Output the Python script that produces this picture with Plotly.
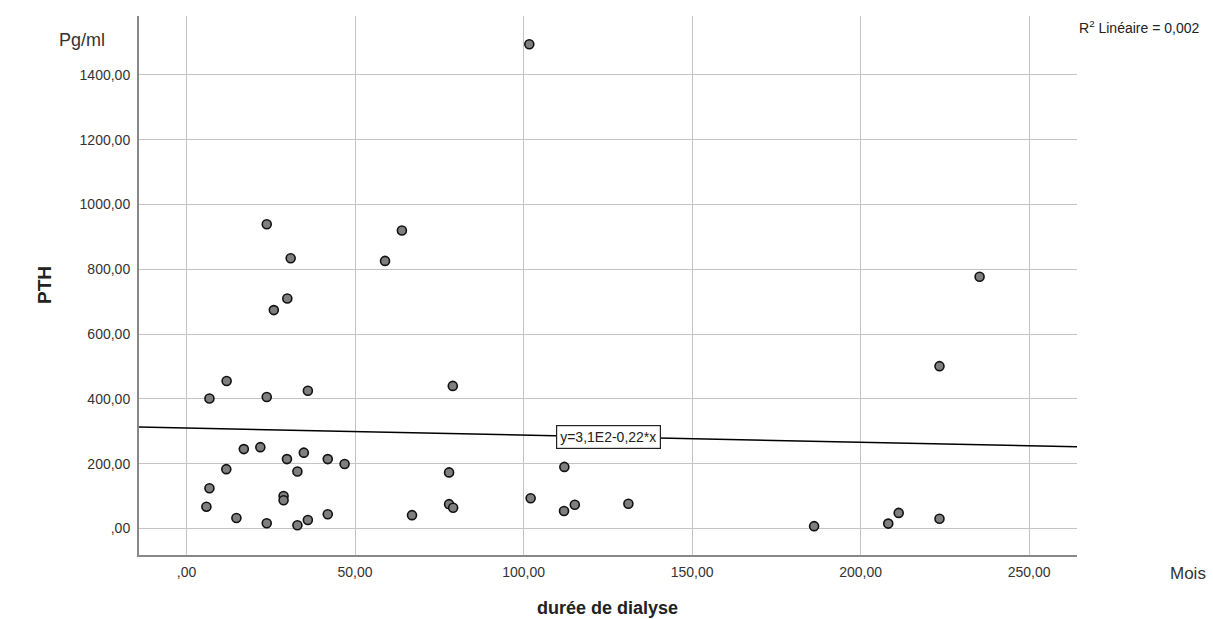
import numpy as np
import plotly.graph_objects as go

# ---- data ----
duree = [101.7, 11.9, 6.8, 23.8, 36.0, 17.0, 21.9, 29.8, 34.8, 41.9, 46.9, 11.8, 32.9,
         6.8, 28.8, 28.8, 5.9, 14.8, 23.8, 32.9, 36.0, 41.9,
         23.8, 30.9, 29.9, 25.9, 63.9, 58.9,
         79.0, 77.9, 77.9, 79.1, 66.9, 102.1, 112.1, 112.0, 115.2, 131.1,
         235.3, 223.4, 186.2, 208.2, 211.3, 223.4]
pth = [1495, 455, 401, 406, 425, 245, 251, 214, 234, 214, 199, 183, 176,
       124, 100, 87, 67, 32, 16, 10, 26, 44,
       939, 834, 710, 674, 920, 826,
       440, 173, 75, 64, 41, 93, 190, 54, 73, 76,
       777, 501, 7, 15, 48, 30]

x_ticks = [0, 50, 100, 150, 200, 250]
x_ticklabels = [",00", "50,00", "100,00", "150,00", "200,00", "250,00"]
y_ticks = [0, 200, 400, 600, 800, 1000, 1200, 1400]
y_ticklabels = [",00", "200,00", "400,00", "600,00", "800,00", "1000,00", "1200,00", "1400,00"]

fit_intercept = 310.0
fit_slope = -0.22
fit_label = "y=3,1E2-0,22*x"
r2_label = "R<sup>2</sup> Linéaire = 0,002"

x_range = [-14.1, 264.2]
y_range = [-82, 1582]

FONT = "Liberation Sans, Arial, sans-serif"
TXT = "#333333"

fig = go.Figure()

# regression line across the whole axis
xl = np.array(x_range)
fig.add_trace(go.Scatter(
    x=xl, y=fit_intercept + fit_slope * xl, mode="lines",
    line=dict(color="black", width=1.5), hoverinfo="skip", showlegend=False))

fig.add_trace(go.Scatter(
    x=duree, y=pth, mode="markers",
    marker=dict(size=9, color="#7f7f7f", line=dict(color="#111111", width=1.6)),
    showlegend=False))

fig.update_layout(
    width=1213, height=619,
    margin=dict(l=139, r=136, t=16, b=64),
    paper_bgcolor="white", plot_bgcolor="white",
    font=dict(family=FONT, color=TXT),
    showlegend=False,
    xaxis=dict(range=x_range, tickvals=x_ticks, ticktext=x_ticklabels,
               showgrid=True, gridcolor="#c4c4c4", gridwidth=1,
               zeroline=False, showline=True, linecolor="#888888", linewidth=2,
               ticks="", ticklabelstandoff=3,
               tickfont=dict(size=14, color=TXT, family=FONT)),
    yaxis=dict(range=y_range, tickvals=y_ticks, ticktext=y_ticklabels,
               showgrid=True, gridcolor="#c4c4c4", gridwidth=1,
               zeroline=False, showline=True, linecolor="#888888", linewidth=2,
               ticks="", ticklabelstandoff=4,
               tickfont=dict(size=14, color=TXT, family=FONT)),
)

fig.add_annotation(x=125.1, y=282, xref="x", yref="y", text=fit_label, showarrow=False,
                   font=dict(size=14, color="#222222", family=FONT),
                   bgcolor="white", bordercolor="#222222", borderwidth=1.2, borderpad=3)

ann = [
    dict(text="Pg/ml", x=-0.0874, y=0.9555, xanchor="left", yanchor="middle",
         font=dict(size=18, color=TXT, family=FONT)),
    dict(text="<b>PTH</b>", x=-0.1002, y=0.501, xanchor="center", yanchor="middle", textangle=-90,
         font=dict(size=19, color="#222222", family=FONT)),
    dict(text="<b>durée de dialyse</b>", x=0.499, y=-0.0983, xanchor="center", yanchor="middle",
         font=dict(size=18, color="#222222", family=FONT)),
    dict(text="Mois", x=1.097, y=-0.0334, xanchor="left", yanchor="middle",
         font=dict(size=17, color=TXT, family=FONT)),
    dict(text=r2_label, x=1.0, y=0.9796, xanchor="left", yanchor="middle",
         font=dict(size=14, color="#222222", family=FONT)),
]
for a in ann:
    fig.add_annotation(xref="paper", yref="paper", showarrow=False, **a)

fig.write_html("out.html", config={"displayModeBar": False},
               post_script="document.body.style.margin='0px';document.body.style.overflow='hidden';")
